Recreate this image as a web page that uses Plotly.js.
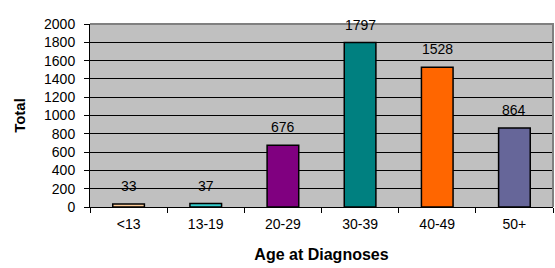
<!DOCTYPE html>
<html>
<head>
<meta charset="utf-8">
<script src="https://cdn.plot.ly/plotly-3.0.1.min.js"></script>
<style>html,body{margin:0;padding:0;background:#fff;}#chart{width:555px;height:268px;}</style>
</head>
<body>
<div id="chart"></div>
<script>
const categories = ["<13", "13-19", "20-29", "30-39", "40-49", "50+"];
const totals = [33, 37, 676, 1797, 1528, 864];
const barColors = ["#FFCC99", "#33CCCC", "#800080", "#008080", "#FF6600", "#666699"];
const yTickVals = [0, 200, 400, 600, 800, 1000, 1200, 1400, 1600, 1800, 2000];

const fam = "Liberation Sans, Arial, sans-serif";
const font = {family: fam, size: 14, color: "#000"};
const xTitleFont = {family: fam, size: 16, color: "#000"};
const yTitleFont = {family: fam, size: 15, color: "#000"};

const trace = {
  type: "bar",
  x: categories,
  y: totals,
  marker: {color: barColors, line: {color: "#000", width: 1.5}},
  width: 0.41,
  hoverinfo: "none"
};

const annotations = categories.map((c, i) => ({
  x: c, y: totals[i], xref: "x", yref: "y",
  text: String(totals[i]), showarrow: false,
  yanchor: "bottom", yshift: 8, font: font
}));

const layout = {
  width: 555, height: 268,
  margin: {l: 90, r: 2, t: 24, b: 61, pad: 0},
  paper_bgcolor: "#fff",
  plot_bgcolor: "#C0C0C0",
  font: font,
  showlegend: false,
  xaxis: {
    type: "category",
    showline: true, linecolor: "#000", linewidth: 1,
    ticks: "outside", tickson: "boundaries", ticklen: 5, tickcolor: "#000",
    ticklabelstandoff: 4,
    showgrid: false, zeroline: false,
    tickfont: font,
    title: {text: "<b>Age at Diagnoses</b>", font: xTitleFont, standoff: 18}
  },
  yaxis: {
    range: [0, 2000],
    tickvals: yTickVals,
    showline: true, linecolor: "#000", linewidth: 1,
    ticks: "outside", ticklen: 5, tickcolor: "#000",
    ticklabelstandoff: 6,
    showgrid: true, gridcolor: "#000", gridwidth: 1,
    zeroline: false,
    tickfont: font,
    title: {text: "<b>Total</b>", font: yTitleFont, standoff: 14}
  },
  shapes: [{
    type: "path", xref: "paper", yref: "paper",
    path: "M0,1 L1,1 L1,0", line: {color: "#808080", width: 2}, layer: "above"
  }],
  annotations: annotations
};

Plotly.newPlot("chart", [trace], layout, {displayModeBar: false, staticPlot: true});
</script>
</body>
</html>
